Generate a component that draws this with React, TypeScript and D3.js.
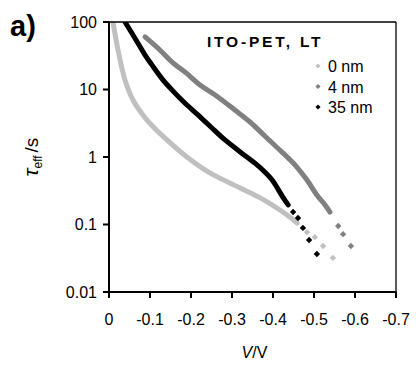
import React from "react";
import * as d3 from "d3";

// Data (V in volts, tau_eff in seconds)
const series0V = [-0.0098, -0.022, -0.039, -0.0585, -0.0927, -0.1415, -0.19, -0.246, -0.32, -0.368, -0.417, -0.444, -0.459];
const series0T = [100, 38.5, 13.8, 7.0, 3.53, 1.79, 1.0, 0.58, 0.348, 0.25, 0.164, 0.125, 0.105];
const series0TailV = [-0.483, -0.502, -0.522, -0.546];
const series0TailT = [0.077, 0.065, 0.048, 0.032];

const series1V = [-0.088, -0.124, -0.154, -0.188, -0.222, -0.259, -0.307, -0.344, -0.38, -0.424, -0.454, -0.483, -0.507, -0.527, -0.539];
const series1T = [60, 38.5, 25.5, 17.6, 11.7, 8.3, 4.97, 3.3, 2.05, 1.15, 0.76, 0.456, 0.273, 0.195, 0.153];
const series1TailV = [-0.559, -0.571, -0.59];
const series1TailT = [0.095, 0.072, 0.048];

const series2V = [-0.039, -0.063, -0.088, -0.105, -0.132, -0.154, -0.185, -0.217, -0.246, -0.283, -0.32, -0.356, -0.38, -0.398, -0.424, -0.437];
const series2T = [100, 58, 32.4, 23, 13.8, 9.8, 6.3, 4.2, 2.88, 1.79, 1.19, 0.81, 0.6, 0.456, 0.255, 0.195];
const series2TailV = [-0.449, -0.461, -0.473, -0.488, -0.507];
const series2TailT = [0.153, 0.125, 0.089, 0.059, 0.0366];

const seriesNames = ["0 nm", "4 nm", "35 nm"];
const seriesColors = ["#c0c0c0", "#808080", "#000000"];

const xTicks = [0, -0.1, -0.2, -0.3, -0.4, -0.5, -0.6, -0.7];
const yTicks = [100, 10, 1, 0.1, 0.01];
const yTickLabels = ["100", "10", "1", "0.1", "0.01"];

const W = 419;
const H = 366;
const left = 109;
const right = 396;
const top = 22;
const bottom = 292;
const font = "'Liberation Sans', Arial, sans-serif";

export default function App() {
  const x = d3.scaleLinear().domain([0, -0.7]).range([left, right]);
  const y = d3.scaleLog().domain([0.01, 100]).range([bottom, top]);

  const line = d3
    .line<[number, number]>()
    .x((d) => x(d[0]))
    .y((d) => y(d[1]))
    .curve(d3.curveCatmullRom.alpha(0.5));

  const curves = [
    { v: series0V, t: series0T, tv: series0TailV, tt: series0TailT },
    { v: series1V, t: series1T, tv: series1TailV, tt: series1TailT },
    { v: series2V, t: series2T, tv: series2TailV, tt: series2TailT },
  ];

  const diamond = (cx: number, cy: number, r: number) =>
    `M${cx},${cy - r}L${cx + r},${cy}L${cx},${cy + r}L${cx - r},${cy}Z`;

  return (
    <svg
      width={W}
      height={H}
      style={{ position: "absolute", left: 0, top: 0, background: "#fff" }}
      fontFamily={font}
    >
      <rect x={0} y={0} width={W} height={H} fill="#fff" />
      <defs>
        <clipPath id="plotClip">
          <rect x={left} y={top} width={right - left} height={bottom - top} />
        </clipPath>
      </defs>

      {/* curves */}
      <g clipPath="url(#plotClip)">
        {curves.map((c, i) => {
          const pts: [number, number][] = c.v.map((v, k) => [v, c.t[k]]);
          return (
            <g key={i}>
              <path
                d={line(pts) || ""}
                fill="none"
                stroke={seriesColors[i]}
                strokeWidth={5}
                strokeLinecap="round"
                strokeLinejoin="round"
              />
              {c.tv.map((v, k) => (
                <path key={k} d={diamond(x(v), y(c.tt[k]), 3.2)} fill={seriesColors[i]} />
              ))}
            </g>
          );
        })}
      </g>

      {/* frame */}
      <line x1={left} y1={top} x2={right} y2={top} stroke="#000" strokeWidth={1.3} />
      <line x1={right} y1={top} x2={right} y2={bottom} stroke="#000" strokeWidth={1.3} />
      <line x1={left} y1={top - 0.5} x2={left} y2={bottom + 1} stroke="#000" strokeWidth={2} />
      <line x1={left - 1} y1={bottom} x2={right + 0.5} y2={bottom} stroke="#000" strokeWidth={2} />

      {/* y ticks */}
      {yTicks.map((t, i) => (
        <g key={t}>
          <line x1={left - 6} x2={left} y1={y(t)} y2={y(t)} stroke="#000" strokeWidth={2} />
          <text x={97} y={y(t)} dy="0.36em" textAnchor="end" fontSize={16} fill="#000">
            {yTickLabels[i]}
          </text>
        </g>
      ))}

      {/* x ticks */}
      {xTicks.map((t) => (
        <g key={t}>
          <line x1={x(t)} x2={x(t)} y1={bottom} y2={bottom + 6} stroke="#000" strokeWidth={2} />
          <text x={x(t)} y={325} textAnchor="middle" fontSize={16} fill="#000">
            {t === 0 ? "0" : t.toFixed(1)}
          </text>
        </g>
      ))}

      {/* axis titles */}
      <text x={254.5} y={358} textAnchor="middle" fontSize={16} fill="#000">
        <tspan fontStyle="italic">V</tspan>/V
      </text>
      <text
        transform="translate(38,157) rotate(-90)"
        textAnchor="middle"
        fontSize={19}
        fill="#000"
      >
        <tspan fontStyle="italic" fontSize={21}>τ</tspan>
        <tspan fontSize={12} dy={4}>eff</tspan>
        <tspan fontSize={19} dy={-4} dx={3}>/s</tspan>
      </text>

      {/* panel label */}
      <text x={10} y={36} fontSize={29} fontWeight="bold" fill="#000">
        a)
      </text>

      {/* legend */}
      <text x={207} y={47} fontSize={15.5} fontWeight="bold" letterSpacing={2.8} fill="#000">
        ITO-PET, LT
      </text>
      {seriesNames.map((n, i) => (
        <g key={n}>
          <path d={diamond(318, 66 + i * 20.5, 2.6)} fill={seriesColors[i]} />
          <text x={328} y={72 + i * 20.5} fontSize={16} fill="#000">
            {n}
          </text>
        </g>
      ))}
    </svg>
  );
}
